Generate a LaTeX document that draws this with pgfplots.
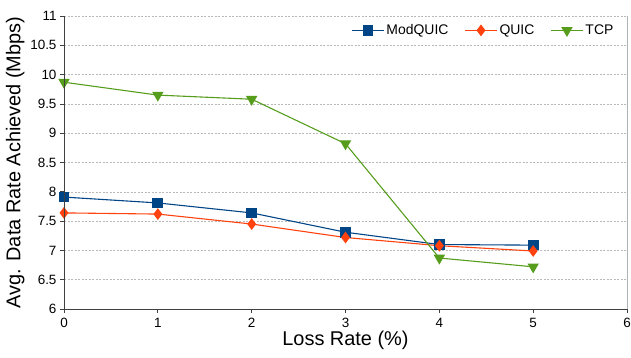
\documentclass[border=0pt]{standalone}
\usepackage{pgfplots}
\pgfplotsset{compat=1.18}
\usepackage{fontspec}
\setmainfont{Liberation Sans}
\definecolor{cmod}{HTML}{004586}
\definecolor{cquic}{HTML}{FF420E}
\definecolor{ctcp}{HTML}{579D1C}
\begin{document}
\begin{tikzpicture}[x=1bp,y=1bp]
\path[use as bounding box] (-64,-48) rectangle (567,309);
\begin{axis}[
  scale only axis,
  width=563bp, height=293bp,
  at={(0,0)}, anchor=south west,
  xmin=0, xmax=6, ymin=6, ymax=11,
  xtick={0,...,6},
  ytick={6,6.5,...,11},
  yticklabels={6,6.5,7,7.5,8,8.5,9,9.5,10,10.5,11},
  /pgf/number format/assume math mode=true,
  ticklabel style={font=\fontsize{13.5}{15}\selectfont},
  xticklabel style={yshift=-2bp},
  xlabel={Loss Rate (\%)},
  ylabel={Avg. Data Rate Achieved (Mbps)},
  label style={font=\fontsize{20}{22}\selectfont},
  xlabel style={yshift=4bp},
  ylabel style={yshift=-1bp},
  axis line style={draw=none},
  tick style={draw=black!75, line width=0.8pt},
  major tick length=4bp,
  tick align=outside,
  xtick pos=bottom, ytick pos=left,
  ymajorgrids,
  grid style={dash pattern=on 2bp off 1.5bp, gray!55, line width=0.6pt},
  legend style={draw=none, fill=none, at={(0.985,0.985)}, anchor=north east,
    legend columns=3, font=\fontsize{14}{16}\selectfont,
    /tikz/every even column/.append style={column sep=14bp}},
  legend image code/.code={
    \draw[mark repeat=2,mark phase=2,#1]
      plot coordinates {(0bp,0bp) (16bp,0bp) (32bp,0bp)};},
  legend cell align=left,
  every axis plot/.append style={line width=1.1pt},
]
\addplot[cmod, mark=square*, mark size=4.8bp, mark options={fill=cmod}] coordinates {
(0,7.91) (1,7.81) (2,7.64) (3,7.31) (4,7.10) (5,7.09)};
\addlegendentry{ModQUIC}
\addplot[cquic, mark=diamond*, mark size=5bp, mark options={fill=cquic}] coordinates {
(0,7.64) (1,7.62) (2,7.45) (3,7.22) (4,7.08) (5,6.99)};
\addlegendentry{QUIC}
\addplot[ctcp, mark=triangle*, mark size=5.5bp, mark options={fill=ctcp, rotate=180}] coordinates {
(0,9.87) (1,9.65) (2,9.58) (3,8.82) (4,6.87) (5,6.72)};
\addlegendentry{TCP}
\end{axis}
\draw[black!75, line width=0.8pt] (0,293) -- (0,0) -- (563,0);
\draw[gray!60, line width=0.8pt] (563,0) -- (563,293);
\end{tikzpicture}
\end{document}
